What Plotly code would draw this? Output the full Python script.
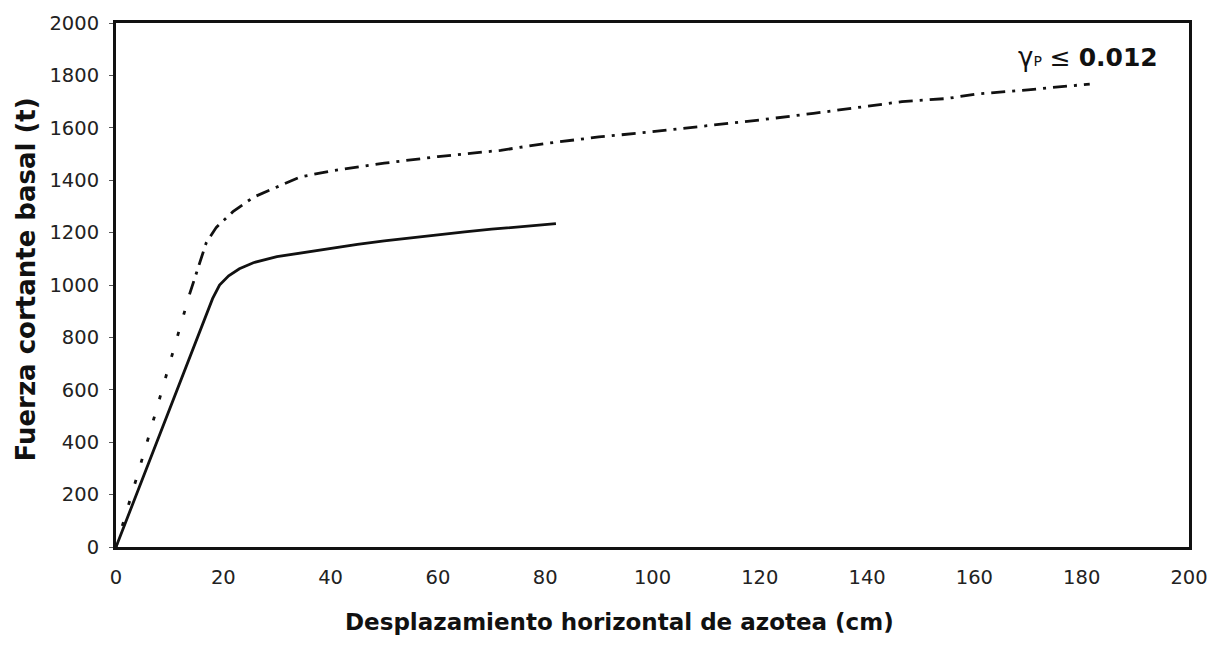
import plotly.graph_objects as go

# Pushover curves: base shear (t) vs. roof displacement (cm)
disp_base = [0, 4, 8, 12, 15, 16.5, 18, 19.3, 21, 23, 25.6, 30, 34.3, 40, 45,
             50, 55, 60, 65, 70, 75, 80, 82]
shear_base = [0, 210, 420, 635, 790, 870, 948, 1000, 1035, 1062, 1085, 1108,
              1122, 1140, 1155, 1168, 1180, 1192, 1203, 1213, 1222, 1230, 1234]

disp_gp = [0, 2, 4, 6, 8, 10, 12, 13.7, 15.5, 16.8, 18.7, 21.8, 25.6, 29.9,
           34.3, 40, 50, 60, 71.7, 80, 90, 100, 109, 120, 130, 140, 146.5,
           155, 160, 170, 181.5]
shear_gp = [0, 135, 275, 415, 555, 695, 835, 964, 1077, 1160, 1220, 1280,
            1335, 1374, 1412, 1435, 1465, 1490, 1514, 1540, 1565, 1585, 1605,
            1630, 1655, 1682, 1700, 1712, 1728, 1745, 1767]

x_ticks = [0, 20, 40, 60, 80, 100, 120, 140, 160, 180, 200]
y_ticks = [0, 200, 400, 600, 800, 1000, 1200, 1400, 1600, 1800, 2000]

label_text = ("<span style='font-size:26px'>γ</span>"
              "<span style='font-size:14px'>P</span> ≤ <b>0.012</b>")
x_title = "Desplazamiento horizontal de azotea (cm)"
y_title = "Fuerza cortante basal (t)"

# split index: elastic branch drawn dotted, post-yield branch dash-dot
k = 8

fig = go.Figure()
fig.add_trace(go.Scatter(x=disp_base, y=shear_base, mode="lines",
                         line=dict(color="#111", width=2.8),
                         showlegend=False))
fig.add_trace(go.Scatter(x=disp_gp[:k], y=shear_gp[:k], mode="lines",
                         line=dict(color="#111", width=2.8, dash="4px,18px"),
                         showlegend=False))
fig.add_trace(go.Scatter(x=disp_gp[k - 1:], y=shear_gp[k - 1:], mode="lines",
                         line=dict(color="#111", width=2.8,
                                   dash="14px,7px,3px,7px"),
                         showlegend=False))

tick_font = dict(family="DejaVu Sans", size=19.5, color="#222")
fig.update_xaxes(range=[0, 200], tickvals=x_ticks, showgrid=False,
                 zeroline=False, showline=True, linecolor="#111", linewidth=3,
                 mirror=True, ticks="", ticklabelstandoff=11,
                 tickfont=tick_font)
fig.update_yaxes(range=[0, 2000], tickvals=y_ticks, showgrid=False,
                 zeroline=False, showline=True, linecolor="#111", linewidth=3,
                 mirror=True, ticks="outside", ticklen=4, tickwidth=1,
                 tickcolor="#555", ticklabelstandoff=6, tickfont=tick_font)

fig.add_annotation(xref="x", yref="y", x=200 * (1160 - 116) / (1189 - 116),
                   y=2000 * (547 - 54) / 527, xanchor="right",
                   yanchor="middle", text=label_text, showarrow=False,
                   font=dict(family="DejaVu Sans", size=25, color="#111"))
fig.add_annotation(xref="paper", yref="paper",
                   x=(619 - 116) / (1189 - 116), y=-(622 - 547) / 527,
                   xanchor="center", yanchor="middle", text=f"<b>{x_title}</b>",
                   showarrow=False,
                   font=dict(family="DejaVu Sans", size=23, color="#111"))
fig.add_annotation(xref="paper", yref="paper",
                   x=-(116 - 26) / (1189 - 116), y=(547 - 278) / 527,
                   xanchor="center", yanchor="middle", textangle=-90,
                   text=f"<b>{y_title}</b>", showarrow=False,
                   font=dict(family="DejaVu Sans", size=26, color="#111"))

fig.update_layout(width=1221, height=662, plot_bgcolor="white",
                  paper_bgcolor="white",
                  margin=dict(l=116, r=1221 - 1189, t=20, b=662 - 547))

fig.write_html("out.html")
